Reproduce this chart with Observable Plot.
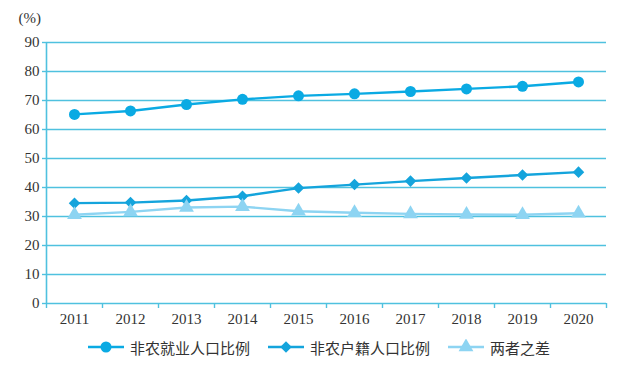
<!DOCTYPE html>
<html><head><meta charset="utf-8">
<script src="https://cdn.jsdelivr.net/npm/d3@7"></script>
<script src="https://cdn.jsdelivr.net/npm/@observablehq/plot@0.6"></script>
<style>
body{margin:0;background:#fff;}
#legend{display:flex;align-items:center;height:34px;padding-left:88px;font-family:"Noto Sans CJK SC",sans-serif;font-size:15px;color:#333;}
#legend .it{display:flex;align-items:center;margin-right:18px;}
#legend svg{margin-right:6px;}
</style></head>
<body>
<div id="chart"></div>
<div id="legend"></div>
<script>
const years = [2011,2012,2013,2014,2015,2016,2017,2018,2019,2020];
const nonAgriEmployment = [65.2,66.4,68.6,70.4,71.6,72.3,73.1,74.0,74.9,76.4];
const nonAgriHukou = [34.6,34.8,35.5,37.0,39.8,41.0,42.2,43.3,44.3,45.3];
const gap = [30.6,31.6,33.1,33.4,31.8,31.3,30.9,30.7,30.6,31.1];
const seriesNames = ["非农就业人口比例","非农户籍人口比例","两者之差"];
const yTicks = [0,10,20,30,40,50,60,70,80,90];

const colors = ["#0aaae3","#14a4dc","#8dd4f2"];
const symbols = ["circle","diamond2","triangle"];
const radii = [5.5,5.2,5.5];
const grid = "#4fc1df";

const data = [];
[nonAgriEmployment, nonAgriHukou, gap].forEach((arr,i)=>arr.forEach((v,j)=>data.push({series:seriesNames[i], year:years[j], value:v})));
const bounds = years.map(y=>y-0.5).concat([years[years.length-1]+0.5]);

const marks = [
  Plot.ruleY(yTicks, {stroke:grid, strokeWidth:1.4}),
  Plot.ruleX([bounds[0]], {stroke:grid, strokeWidth:1.6}),
  Plot.axisY({ticks:yTicks, tickSize:4, tickPadding:3, stroke:grid, strokeWidth:1.4, fontSize:15, fontFamily:"Liberation Serif", fill:"#333", label:null}),
  Plot.axisX({ticks:bounds, tickSize:5, stroke:grid, strokeWidth:1.4, tickFormat:()=>"", label:null}),
  Plot.axisX({ticks:years, tickSize:0, tickPadding:10, tickFormat:d=>String(d), fontSize:15, fontFamily:"Liberation Serif", fill:"#333", label:null}),
  Plot.text(["(%)"], {frameAnchor:"top-left", dx:-28, dy:-30, fontSize:15, fontFamily:"Liberation Serif", fill:"#333"})
];
seriesNames.forEach((name,i)=>{
  const d = data.filter(r=>r.series===name);
  marks.push(Plot.line(d, {x:"year", y:"value", stroke:colors[i], strokeWidth:2.4}));
  marks.push(Plot.dot(d, {x:"year", y:"value", fill:colors[i], symbol:symbols[i], r:radii[i]}));
});
// draw circles series on top order: reverse gap under
const chart = Plot.plot({
  width:618, height:330,
  marginLeft:46, marginRight:12, marginTop:42, marginBottom:27,
  x:{domain:[bounds[0], bounds[bounds.length-1]], axis:null},
  y:{domain:[0,90], axis:null},
  style:{fontFamily:"Liberation Serif", background:"#fff"},
  marks
});
document.getElementById("chart").appendChild(chart);

const leg = document.getElementById("legend");
seriesNames.forEach((name,i)=>{
  const it = document.createElement("div"); it.className="it";
  const s = d3.create("svg").attr("width",36).attr("height",16);
  s.append("line").attr("x1",0).attr("x2",36).attr("y1",8).attr("y2",8).attr("stroke",colors[i]).attr("stroke-width",2.4);
  const sym = {circle:d3.symbolCircle, diamond2:d3.symbolDiamond2, triangle:d3.symbolTriangle}[symbols[i]];
  s.append("path").attr("transform","translate(18,8)").attr("d",d3.symbol(sym, Math.PI*radii[i]*radii[i])()).attr("fill",colors[i]);
  it.appendChild(s.node());
  const t = document.createElement("span"); t.textContent = name; it.appendChild(t);
  leg.appendChild(it);
});
</script>
</body></html>
